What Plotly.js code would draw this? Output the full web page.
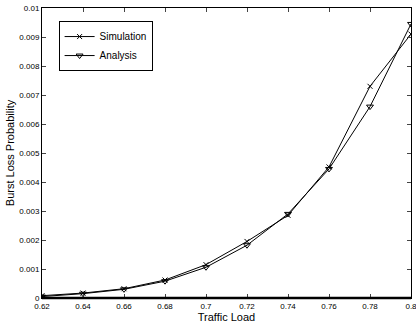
<!DOCTYPE html>
<html><head><meta charset="utf-8">
<script src="https://cdn.plot.ly/plotly-3.0.1.min.js"></script>
<style>html,body{margin:0;padding:0;background:#fff;}#chart{width:416px;height:326px;}</style>
</head><body><div id="chart"></div>
<script>
const trafficLoad = [0.62, 0.64, 0.66, 0.68, 0.70, 0.72, 0.74, 0.76, 0.78, 0.80];
const simulation = [0.00008, 0.00017, 0.00032, 0.00062, 0.00115, 0.00195, 0.00285, 0.00452, 0.0073, 0.0091];
const analysis = [0.00005, 0.00015, 0.0003, 0.00058, 0.00106, 0.00182, 0.0029, 0.00445, 0.0066, 0.00945];
const xTickVals = [0.62, 0.64, 0.66, 0.68, 0.70, 0.72, 0.74, 0.76, 0.78, 0.80];
const xTickText = ['0.62','0.64','0.66','0.68','0.7','0.72','0.74','0.76','0.78','0.8'];
const yTickVals = [0, 0.001, 0.002, 0.003, 0.004, 0.005, 0.006, 0.007, 0.008, 0.009, 0.01];
const yTickText = ['0','0.001','0.002','0.003','0.004','0.005','0.006','0.007','0.008','0.009','0.01'];

const font = 'Liberation Sans, Arial, sans-serif';
const traces = [
  {x: trafficLoad, y: simulation, name: 'Simulation', mode: 'lines+markers',
   line: {color: '#000', width: 1}, marker: {symbol: 'x-thin', size: 5, color: '#000', line: {color: '#000', width: 1}}},
  {x: trafficLoad, y: analysis, name: 'Analysis', mode: 'lines+markers',
   line: {color: '#000', width: 1}, marker: {symbol: 'triangle-down-open', size: 6, color: '#000', line: {color: '#000', width: 1}}}
];
const layout = {
  width: 416, height: 326,
  margin: {l: 42, r: 5, t: 8, b: 28},
  paper_bgcolor: '#fff', plot_bgcolor: '#fff',
  showlegend: true,
  font: {family: font, size: 8, color: '#000'},
  legend: {x: 0.045, y: 0.955, xanchor: 'left', yanchor: 'top', bordercolor: '#000', borderwidth: 1,
    bgcolor: '#fff', font: {family: font, size: 10}, tracegroupgap: 0, itemwidth: 30},
  xaxis: {range: [0.62, 0.8], tickvals: xTickVals, ticktext: xTickText, ticks: 'inside', ticklen: 4,
    ticklabeloverflow: 'allow',
    showline: true, linecolor: '#000', linewidth: 1, mirror: 'ticks', showgrid: false, zeroline: false,
    tickfont: {family: font, size: 8}, title: {text: 'Traffic Load', font: {family: font, size: 11}, standoff: 2}},
  yaxis: {range: [0, 0.01], tickvals: yTickVals, ticktext: yTickText, ticks: 'inside', ticklen: 4,
    showline: true, linecolor: '#000', linewidth: 1, mirror: 'ticks', showgrid: false, zeroline: false,
    tickfont: {family: font, size: 8}, title: {text: 'Burst Loss Probability', font: {family: font, size: 11}, standoff: 2}},
  shapes: [{type: 'line', xref: 'paper', yref: 'paper', x0: 0, x1: 1, y0: 0, y1: 0, line: {color: '#000', width: 2.5}}]
};
Plotly.newPlot('chart', traces, layout, {displayModeBar: false, staticPlot: true});
</script></body></html>
